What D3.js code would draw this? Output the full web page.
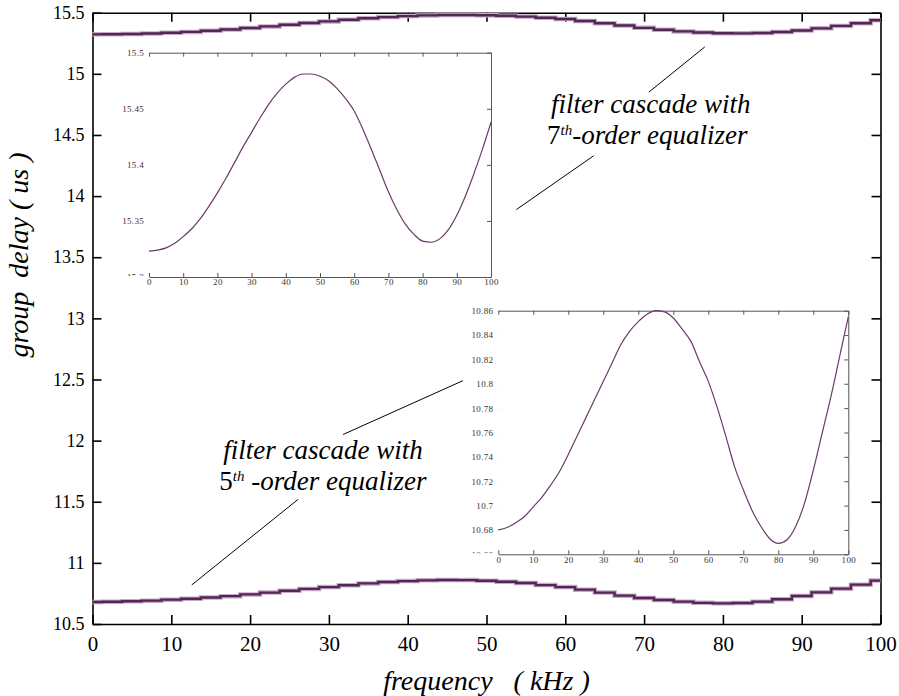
<!DOCTYPE html>
<html>
<head>
<meta charset="utf-8">
<script src="https://cdn.jsdelivr.net/npm/d3@7"></script>
<style>
    body { margin: 0; background: #fff; }
    svg { display: block; }
    text { font-family: "Liberation Serif", "DejaVu Serif", "Liberation Sans", serif; }
    .xLabel text { font-size: 21px; fill: #000; }
    .yLabel text { font-size: 18px; fill: #000; }
    .insetAxis text { font-size: 9px; fill: #333; letter-spacing: 0.3px; }
    .title { font-style: italic; font-size: 28px; white-space: pre; }
    .note { font-style: italic; font-size: 27px; white-space: pre; }
</style>
</head>
<body>
<div id="wrapper"></div>
<script>

// frequency (kHz)
const freq = [0, 2.5, 5, 7.5, 10, 12.5, 15, 17.5, 20, 22.5, 25, 27.5, 30, 32.5, 35, 37.5, 40,
    42.5, 45, 47.5, 50, 52.5, 55, 57.5, 60, 62.5, 65, 67.5, 70, 72.5, 75, 77.5, 80,
    82.5, 85, 87.5, 90, 92.5, 95, 97.5, 100];

// group delay (us), filter cascade + 7th-order equalizer
const delay7 = [15.323, 15.324, 15.326, 15.330, 15.336, 15.343, 15.352, 15.363, 15.375, 15.388,
    15.402, 15.416, 15.429, 15.442, 15.454, 15.464, 15.472, 15.478, 15.481, 15.481,
    15.479, 15.475, 15.468, 15.459, 15.448, 15.432, 15.414, 15.395, 15.376, 15.360,
    15.347, 15.338, 15.332, 15.331, 15.334, 15.342, 15.355, 15.372, 15.392, 15.414, 15.438];

// group delay (us), filter cascade + 5th-order equalizer
const delay5 = [10.680, 10.682, 10.686, 10.691, 10.699, 10.707, 10.717, 10.728, 10.742, 10.757,
    10.772, 10.787, 10.802, 10.817, 10.832, 10.843, 10.851, 10.857, 10.860, 10.859,
    10.854, 10.845, 10.835, 10.818, 10.802, 10.781, 10.757, 10.732, 10.713, 10.696,
    10.683, 10.673, 10.669, 10.672, 10.683, 10.702, 10.729, 10.759, 10.789, 10.822, 10.855];

const xTicks = [0, 10, 20, 30, 40, 50, 60, 70, 80, 90, 100];
const yTicks = [10.5, 11, 11.5, 12, 12.5, 13, 13.5, 14, 14.5, 15, 15.5];
const inset7Ticks = [15.3, 15.35, 15.4, 15.45, 15.5];
const inset5Ticks = [10.66, 10.68, 10.7, 10.72, 10.74, 10.76, 10.78, 10.8, 10.82, 10.84, 10.86];

function drawChart() {

    let dimensions = {
        width: 899,
        height: 696,
        margin: {
            top: 12.7,
            right: 18.5,
            bottom: 72,
            left: 92.5
        }
    };
    dimensions.boundedW = dimensions.width - dimensions.margin.left - dimensions.margin.right;
    dimensions.boundedH = dimensions.height - dimensions.margin.top - dimensions.margin.bottom;

    const wrapper = d3.select('#wrapper')
        .append('svg')
        .attr('width', dimensions.width)
        .attr('height', dimensions.height);

    const bounds = wrapper.append('g')
        .attr('transform', `translate(${dimensions.margin.left},${dimensions.margin.top})`);

    const xScale = d3.scaleLinear().domain([0, 100]).range([0, dimensions.boundedW]);
    const yScale = d3.scaleLinear().domain([10.5, 15.5]).range([dimensions.boundedH, 0]);

    /// ACHSEN (ticks nach innen, auf allen 4 Seiten) //////////////////////
    const fmt = d => String(d);

    bounds.append('g')
        .attr('class', 'xLabel')
        .attr('transform', `translate(0,${dimensions.boundedH})`)
        .call(d3.axisBottom(xScale).tickValues(xTicks).tickFormat(fmt).tickSize(-9).tickSizeOuter(0).tickPadding(12));

    bounds.append('g')
        .attr('class', 'yLabel')
        .call(d3.axisLeft(yScale).tickValues(yTicks).tickFormat(fmt).tickSize(-9).tickSizeOuter(0).tickPadding(8));

    bounds.append('g')
        .call(d3.axisTop(xScale).tickValues(xTicks).tickFormat('').tickSize(-9).tickSizeOuter(0));

    bounds.append('g')
        .attr('transform', `translate(${dimensions.boundedW},0)`)
        .call(d3.axisRight(yScale).tickValues(yTicks).tickFormat('').tickSize(-9).tickSizeOuter(0));

    bounds.selectAll('.domain, .tick line')
        .attr('stroke', '#000')
        .attr('stroke-width', 1.6);
    wrapper.selectAll('g').attr('font-family', null).attr('font-size', null);

    /// KURVEN im Hauptdiagramm ////////////////////////////////////////////
    const mainLine = d3.line()
        .x((d, i) => xScale(freq[i]))
        .y(d => yScale(d))
        .curve(d3.curveStep);

    [delay7, delay5].forEach(series => {
        bounds.append('path')
            .attr('d', mainLine(series))
            .attr('fill', 'none')
            .attr('stroke', '#c7a9c7')
            .attr('stroke-width', 4.5);
        bounds.append('path')
            .attr('d', mainLine(series))
            .attr('fill', 'none')
            .attr('stroke', '#532653')
            .attr('stroke-width', 2.4);
    });

    /// INSETS ////////////////////////////////////////////////////////////
    function drawInset(box, series, yDomain, yTickVals, id) {
        const w = box.x1 - box.x0;
        const h = box.y1 - box.y0;
        const g = wrapper.append('g')
            .attr('class', 'insetAxis')
            .attr('transform', `translate(${box.x0},${box.y0})`);

        const ix = d3.scaleLinear().domain([0, 100]).range([0, w]);
        const iy = d3.scaleLinear().domain(yDomain).range([h, 0]);

        g.append('rect').attr('width', w).attr('height', h).attr('fill', '#fff');

        // unterstes Label ist im Original abgeschnitten
        wrapper.append('clipPath').attr('id', id)
            .append('rect').attr('x', -60).attr('y', -20).attr('width', 60).attr('height', h + 19);

        g.append('g')
            .attr('transform', `translate(0,${h})`)
            .call(d3.axisBottom(ix).tickValues(xTicks).tickFormat(fmt).tickSize(-4).tickSizeOuter(0).tickPadding(2));
        g.append('g')
            .attr('clip-path', `url(#${id})`)
            .call(d3.axisLeft(iy).tickValues(yTickVals).tickFormat(fmt).tickSize(-4).tickSizeOuter(0).tickPadding(5));
        g.append('g')
            .call(d3.axisTop(ix).tickValues(xTicks).tickFormat('').tickSize(-4).tickSizeOuter(0));
        g.append('g')
            .attr('transform', `translate(${w},0)`)
            .call(d3.axisRight(iy).tickValues(yTickVals).tickFormat('').tickSize(-4).tickSizeOuter(0));

        g.selectAll('.domain, .tick line').attr('stroke', '#555').attr('stroke-width', 1);
        g.selectAll('g').attr('font-family', null).attr('font-size', null);

        g.append('path')
            .attr('d', d3.line()
                .x((d, i) => ix(freq[i]))
                .y(d => iy(d))
                .curve(d3.curveMonotoneX)(series))
            .attr('fill', 'none')
            .attr('stroke', '#6b3b6b')
            .attr('stroke-width', 1.2);
    }

    drawInset({ x0: 149, y0: 52.7, x1: 491, y1: 277 }, delay7, [15.3, 15.5], inset7Ticks, 'clip7');
    drawInset({ x0: 498.3, y0: 310.7, x1: 848.3, y1: 554.3 }, delay5, [10.66, 10.86], inset5Ticks, 'clip5');

    /// ANMERKUNGEN (in Datenkoordinaten) ////////////////////////////////
    const pointerLines = [
        [[70.6, 14.85], [77.7, 15.22]],
        [[63.6, 14.33], [53.8, 13.89]],
        [[31.8, 12.05], [47.0, 12.49]],
        [[26.1, 11.52], [12.6, 10.82]]
    ];
    bounds.selectAll('.pointer')
        .data(pointerLines)
        .enter()
        .append('line')
        .attr('x1', d => xScale(d[0][0]))
        .attr('y1', d => yScale(d[0][1]))
        .attr('x2', d => xScale(d[1][0]))
        .attr('y2', d => yScale(d[1][1]))
        .style('stroke', '#000')
        .style('stroke-width', 1);

    function note(x, y1, y2, num, sep) {
        bounds.append('text').attr('class', 'note')
            .attr('x', xScale(x)).attr('y', yScale(y1))
            .text('filter cascade with');
        const l2 = bounds.append('text').attr('class', 'note')
            .attr('x', xScale(x) - 4).attr('y', yScale(y2));
        l2.append('tspan').style('font-style', 'normal').text(num);
        l2.append('tspan').attr('dy', -9).style('font-size', '15px').text('th');
        l2.append('tspan').attr('dy', 9).text(sep + '-order equalizer');
    }
    note(58.2, 14.68, 14.43, '7', '');
    note(16.6, 11.85, 11.60, '5', ' ');

    /// ACHSENTITEL ///////////////////////////////////////////////////
    wrapper.append('text')
        .attr('class', 'title')
        .attr('text-anchor', 'middle')
        .attr('x', dimensions.margin.left + dimensions.boundedW / 2)
        .attr('y', 690)
        .text('frequency   ( kHz )');

    wrapper.append('text')
        .attr('class', 'title')
        .attr('text-anchor', 'middle')
        .attr('transform', 'translate(28,255) rotate(-90)')
        .text('group  delay ( us )');
}

drawChart();
</script>
</body>
</html>
